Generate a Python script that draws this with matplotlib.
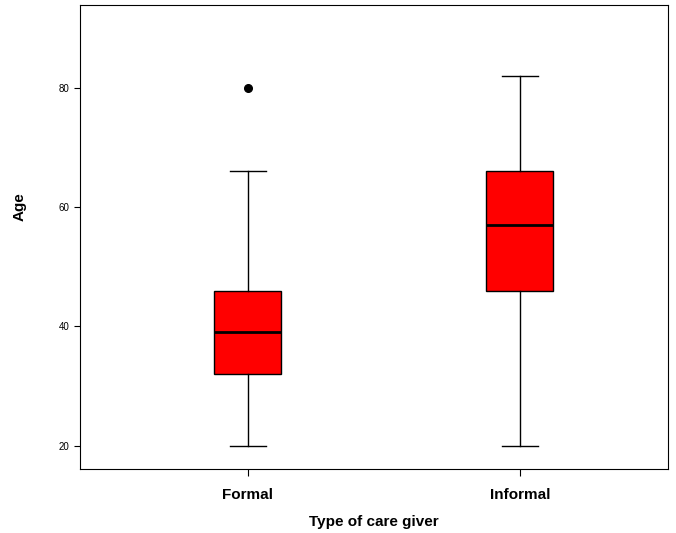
import matplotlib
matplotlib.use("Agg")
import matplotlib.pyplot as plt

plt.rcParams["font.family"] = ["Liberation Sans", "DejaVu Sans"]

GROUPS = ["Formal", "Informal"]
WHISLO = [20, 20]
Q1 = [32, 46]
MED = [39, 57]
Q3 = [46, 66]
WHISHI = [66, 82]
OUTLIERS = [[80], []]

stats = []
for i, g in enumerate(GROUPS):
    stats.append(dict(label=g, whislo=WHISLO[i], q1=Q1[i], med=MED[i],
                      q3=Q3[i], whishi=WHISHI[i], fliers=OUTLIERS[i]))

fig = plt.figure(figsize=(6.76, 5.33), dpi=100)
ax = fig.add_axes([0.118, 0.120, 0.870, 0.871])
ax.bxp(stats, positions=[1, 2], widths=0.246, patch_artist=True,
       boxprops=dict(facecolor="#ff0000", edgecolor="black", linewidth=1),
       medianprops=dict(color="black", linewidth=2),
       whiskerprops=dict(color="black", linewidth=1),
       capprops=dict(color="black", linewidth=1),
       capwidths=0.13,
       flierprops=dict(marker="o", markerfacecolor="black",
                       markeredgecolor="black", markersize=5.5))
ax.set_xlim(0.382, 2.544)
ax.set_ylim(16.1, 93.9)
ax.set_yticks([20, 40, 60, 80])
ax.tick_params(axis="y", labelsize=7, length=4)
ax.tick_params(axis="x", length=5, pad=9)
ax.set_xticklabels(GROUPS, fontsize=11, fontweight="bold")
ax.set_xlabel("Type of care giver", fontsize=11, fontweight="bold", labelpad=9)
ax.set_ylabel("Age", fontsize=11, fontweight="bold")
ax.yaxis.set_label_coords(-0.09, 0.565)
fig.savefig("out.png", dpi=100)
